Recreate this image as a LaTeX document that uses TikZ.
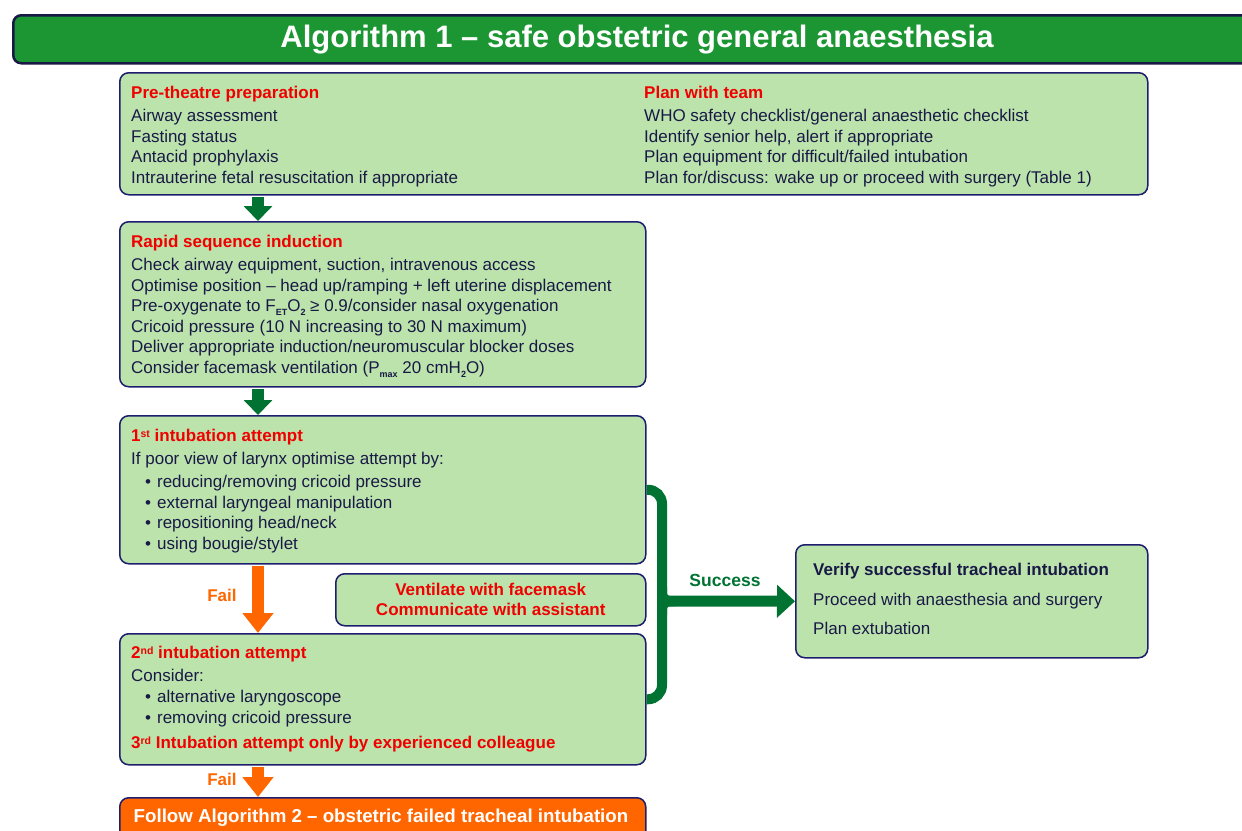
\documentclass[tikz,border=0pt]{standalone}
\usepackage{fontspec}
\setmainfont{Liberation Sans}
\usepackage{tikz}
\usetikzlibrary{arrows.meta}

\definecolor{titlegreen}{RGB}{27,150,50}
\definecolor{boxgreen}{RGB}{188,227,172}
\definecolor{boxline}{RGB}{30,30,110}
\definecolor{arrowgreen}{RGB}{0,115,50}
\definecolor{failorange}{RGB}{255,102,0}
\definecolor{headred}{RGB}{240,0,0}
\definecolor{textnavy}{RGB}{25,25,70}

\newcommand{\redhead}[1]{\textcolor{headred}{\bfseries #1}}
\newcommand{\bitem}{\hspace*{14pt}•\hspace{6pt}}
\newcommand{\smallsup}[1]{\raisebox{4pt}{\fontsize{10.5}{10}\selectfont\bfseries #1}}
\newcommand{\smallsub}[1]{\raisebox{-4pt}{\fontsize{9}{9}\selectfont\bfseries #1}}

\begin{document}
\begin{tikzpicture}[x=1pt,y=-1pt,
    box/.style={draw=boxline, line width=1.5pt, fill=boxgreen, rounded corners=9pt, anchor=north west, inner sep=0pt},
    txt/.style={anchor=north west, inner sep=0pt, align=left, text=textnavy, font=\fontsize{17}{20.5}\selectfont},
    greenarrow/.style={draw=arrowgreen, line width=12pt, shorten <=1pt, -{Triangle[width=28pt,length=15pt]}},
    orangearrow/.style={draw=failorange, line width=12pt, shorten <=1pt, -{Triangle[width=30pt,length=20pt]}},
    brace/.style={draw=arrowgreen, line width=10pt, rounded corners=14pt},
    faillabel/.style={text=failorange, font=\fontsize{17}{20}\selectfont\bfseries}]

    \useasboundingbox (0,0) rectangle (1242,830);

    % draw title bar
    \node[box, draw=textnavy, line width=2.5pt, fill=titlegreen, rounded corners=8pt, minimum width=1250pt, minimum height=48pt] (title) at (12,14) {};
    \node[text=white, font=\fontsize{31}{36}\selectfont\bfseries] (titletxt) at (637,40) {Algorithm 1 – safe obstetric general anaesthesia};

    % draw preparation box
    \node[box, minimum width=1028pt, minimum height=122pt] (prep) at (119,72) {};
    \node[txt] (preptxt) at (131,86) {\redhead{Pre-theatre preparation}\\[2.7pt]
      Airway assessment\\ Fasting status\\ Antacid prophylaxis\\ Intrauterine fetal resuscitation if appropriate};
    \node[txt] (teamtxt) at (644,86) {\redhead{Plan with team}\\[2.7pt]
      WHO safety checklist/general anaesthetic checklist\\ Identify senior help, alert if appropriate\\
      Plan equipment for difficult/failed intubation\\ Plan for/discuss: wake up or proceed with surgery (Table 1)};

    % draw induction box
    \node[box, minimum width=526pt, minimum height=165pt] (rsi) at (119,221) {};
    \node[txt] (rsitxt) at (131,235) {\redhead{Rapid sequence induction}\\[2.5pt]
      Check airway equipment, suction, intravenous access\\
      Optimise position – head up/ramping + left uterine displacement\\
      Pre-oxygenate to F\smallsub{ET}O\smallsub{2} ≥ 0.9/consider nasal oxygenation\\
      Cricoid pressure (10 N increasing to 30 N maximum)\\
      Deliver appropriate induction/neuromuscular blocker doses\\
      Consider facemask ventilation (P\smallsub{max} 20 cmH\smallsub{2}O)};

    % draw first attempt box
    \node[box, minimum width=526pt, minimum height=148pt] (att1) at (119,415) {};
    \node[txt] (att1txt) at (131,429) {\redhead{1\smallsup{st} intubation attempt}\\[2.5pt]
      If poor view of larynx optimise attempt by:\\[2.5pt]
      \bitem reducing/removing cricoid pressure\\ \bitem external laryngeal manipulation\\
      \bitem repositioning head/neck\\ \bitem using bougie/stylet};

    % draw facemask box
    \node[box, minimum width=310pt, minimum height=52pt] (vent) at (335,573) {};
    \node[txt, anchor=center, align=center, font=\fontsize{17}{20}\selectfont\bfseries, text=headred] (venttxt) at (vent.center)
      {Ventilate with facemask\\ Communicate with assistant};

    % draw second attempt box
    \node[box, minimum width=526pt, minimum height=131pt] (att2) at (119,633) {};
    \node[txt] (att2txt) at (131,646) {\redhead{2\smallsup{nd} intubation attempt}\\[2.5pt]
      Consider:\\[0.5pt] \bitem alternative laryngoscope\\ \bitem removing cricoid pressure\\[4.5pt]
      \redhead{3\smallsup{rd} Intubation attempt only by experienced colleague}};

    % draw failed intubation box
    \node[box, fill=failorange, minimum width=526pt, minimum height=60pt] (final) at (119,797) {};
    \node[text=white, font=\fontsize{18.7}{22}\selectfont\bfseries] (finaltxt) at (381,818)
      {Follow Algorithm 2 – obstetric failed tracheal intubation};

    % draw success box
    \node[box, minimum width=352pt, minimum height=113pt] (verify) at (795,544) {};
    \node[txt, font=\fontsize{17}{29.6}\selectfont] (verifytxt) at (813,563) {\textbf{Verify successful tracheal intubation}\\
      Proceed with anaesthesia and surgery\\ Plan extubation};

    % draw down arrows
    \coordinate (spine) at (258,0);
    \draw[greenarrow] (prep.south -| spine) -- (rsi.north -| spine);
    \draw[greenarrow] (rsi.south -| spine) -- (att1.north -| spine);
    \draw[orangearrow] (att1.south -| spine) -- (att2.north -| spine);
    \draw[orangearrow] (att2.south -| spine) -- (final.north -| spine);
    \node[faillabel] (fail1) at (222,595) {Fail};
    \node[faillabel] (fail2) at (222,779) {Fail};

    % draw success bracket
    \coordinate (join) at (662,601);
    \draw[brace] (att1.east) -- (att1.east -| join) -- (att2.east -| join) -- (att2.east);
    \draw[brace, rounded corners=8pt] ([yshift=14pt]join) -- (join) -- ([xshift=14pt]join);
    \draw[brace, rounded corners=8pt] ([yshift=-14pt]join) -- (join) -- ([xshift=14pt]join);
    \draw[draw=arrowgreen, line width=11pt, -{Triangle[width=32pt,length=18pt]}] (join) -- (verify.west);
    \node[text=arrowgreen, font=\fontsize{17.5}{20}\selectfont\bfseries] (success) at (725,580) {Success};

\end{tikzpicture}
\end{document}
